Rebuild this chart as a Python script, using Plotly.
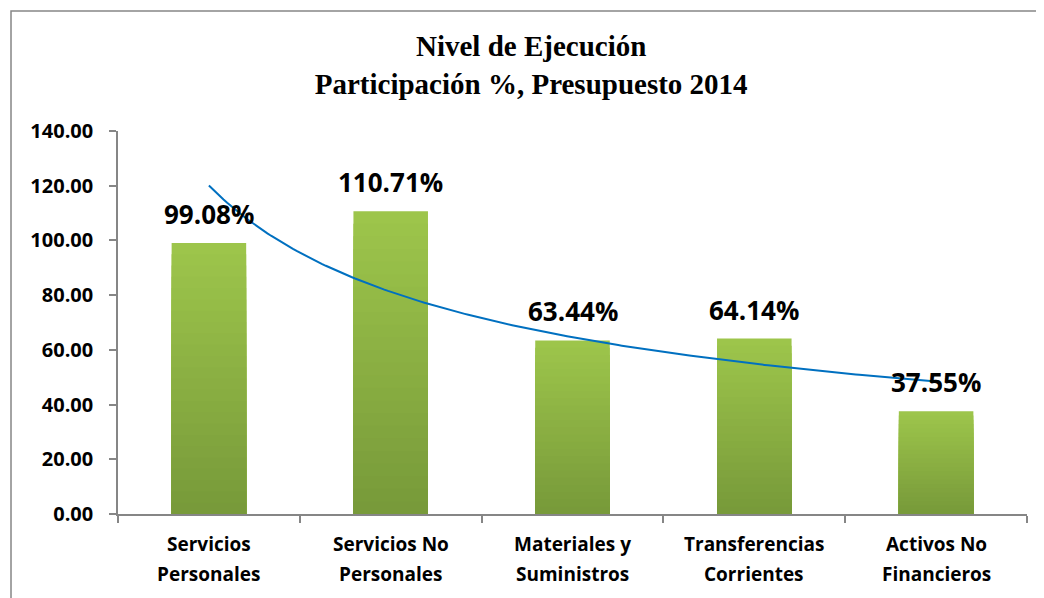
import numpy as np
import plotly.graph_objects as go

categories = ["Servicios<br>Personales", "Servicios No<br>Personales", "Materiales y<br>Suministros",
              "Transferencias<br>Corrientes", "Activos No<br>Financieros"]
ejecucion = [99.08, 110.71, 63.44, 64.14, 37.55]
y_ticks = [0, 20, 40, 60, 80, 100, 120, 140]

positions = np.arange(1, len(categories) + 1)
GRID = "#868686"
FONT = "Open Sans"

fig = go.Figure()

# gradient bars: stacked overlay bands, light at top and dark at bottom
n_bands = 24
top_rgb = np.array([157, 197, 75])
bottom_rgb = np.array([118, 152, 57])
for k in range(n_bands, 0, -1):
    frac = k / n_bands
    rgb = bottom_rgb + (top_rgb - bottom_rgb) * frac
    color = "rgb(%d,%d,%d)" % tuple(rgb.round().astype(int))
    fig.add_trace(go.Bar(
        x=positions,
        y=[v * frac for v in ejecucion],
        width=0.41,
        marker=dict(color=color, line=dict(width=0)),
        hoverinfo="skip" if k < n_bands else None,
        showlegend=False,
    ))

# power trendline, as Excel fits it
b, ln_a = np.polyfit(np.log(positions), np.log(ejecucion), 1)
xs = np.linspace(1, len(categories), 200)
fig.add_trace(go.Scatter(x=xs, y=np.exp(ln_a) * xs ** b, mode="lines",
                         line=dict(color="#0070C0", width=2), showlegend=False,
                         hoverinfo="skip"))

for pos, val in zip(positions, ejecucion):
    fig.add_annotation(x=pos, y=val, text=f"{val:.2f}%", showarrow=False,
                       yanchor="bottom", yshift=9,
                       font=dict(family=FONT, size=26, color="black", weight="bold"))

# category labels, one annotation per line to get Excel's looser line spacing
for pos, label in zip(positions, categories):
    for i, line in enumerate(label.split("<br>")):
        fig.add_annotation(x=pos, y=0, text=line, showarrow=False,
                           yanchor="middle", yshift=-30 - 30 * i,
                           font=dict(family=FONT, size=19, color="black", weight="bold"))

fig.update_layout(
    width=1036, height=590,
    barmode="overlay",
    plot_bgcolor="white", paper_bgcolor="white",
    margin=dict(l=110, r=17, t=123, b=84),
    title=dict(text="<b>Nivel de Ejecución<br>Participación %, Presupuesto 2014</b>",
               x=0.505, xanchor="center", y=0.918, yanchor="top",
               font=dict(family="Liberation Serif", size=29, color="black")),
    font=dict(family=FONT, color="black"),
    shapes=[dict(type="rect", xref="paper", yref="paper",
                 x0=-0.1177, x1=1.1, y0=-0.35, y1=1.313,
                 line=dict(color=GRID, width=1.5), fillcolor="rgba(0,0,0,0)", layer="below")],
)

fig.update_xaxes(
    range=[0.5, len(categories) + 0.5],
    tickmode="array", tickvals=positions, ticktext=[""] * len(categories),
    ticks="", showgrid=False, zeroline=False,
    showline=True, linecolor=GRID, linewidth=1.5,
    minor=dict(tickmode="array", tickvals=list(np.arange(0.5, len(categories) + 1, 1.0)),
               ticks="outside", ticklen=7, tickcolor=GRID, tickwidth=1.5, showgrid=False),
)
fig.update_yaxes(
    range=[0, 140], tickmode="array", tickvals=y_ticks,
    ticktext=[f"{v:.2f}" for v in y_ticks],
    ticks="outside", ticklen=7, tickcolor=GRID, tickwidth=1.5,
    ticklabelstandoff=12,
    showgrid=False, zeroline=False,
    showline=True, linecolor=GRID, linewidth=1.5,
    tickfont=dict(family=FONT, size=20, color="black", weight="bold"),
)

fig.write_html("out.html")
